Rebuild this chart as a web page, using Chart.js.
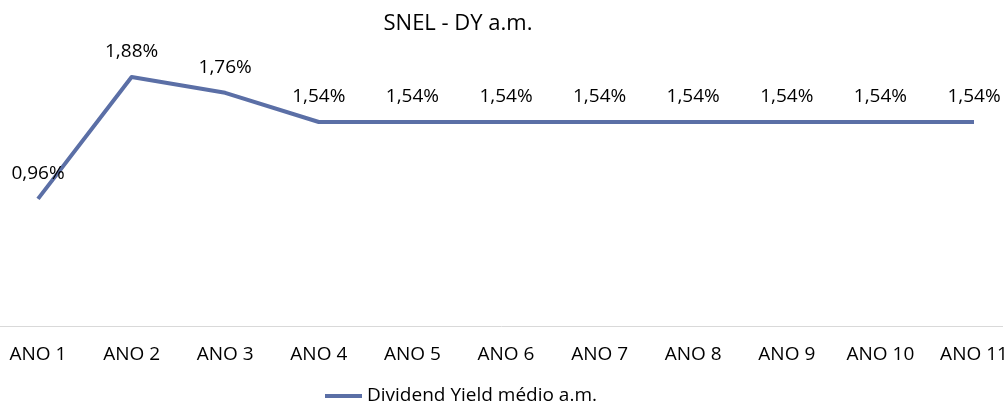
<!DOCTYPE html>
<html>
<head>
    <title>SNEL - DY a.m.</title>
    <script src="https://cdn.jsdelivr.net/npm/chart.js"></script>
    <style>
        html, body { margin: 0; padding: 0; background: #fff; }
        .chart-container { width: 1006px; height: 407px; }
    </style>
</head>
<body>
    <div class="chart-container">
        <canvas id="dyChart" width="1006" height="407"></canvas>
    </div>

    <script>
        const anos = ['ANO 1', 'ANO 2', 'ANO 3', 'ANO 4', 'ANO 5', 'ANO 6', 'ANO 7', 'ANO 8', 'ANO 9', 'ANO 10', 'ANO 11'];
        const dyMedio = [0.96, 1.88, 1.76, 1.54, 1.54, 1.54, 1.54, 1.54, 1.54, 1.54, 1.54];
        const titulo = 'SNEL - DY a.m.';
        const serieNome = 'Dividend Yield médio a.m.';

        const corLinha = '#5b6fa6';
        const fonte = '"Open Sans", "Noto Sans", sans-serif';

        // formato brasileiro: 1,54%
        const fmt = v => v.toFixed(2).replace('.', ',') + '%';

        // rótulos, eixo, título e legenda
        const extras = {
            id: 'extras',
            beforeDatasetsDraw(chart) {
                const c = chart.ctx;
                const y0 = Math.round(chart.scales.y.getPixelForValue(0)) + 0.5;
                c.save();
                c.strokeStyle = '#d9d9d9';
                c.lineWidth = 1;
                c.beginPath();
                c.moveTo(0, y0);
                c.lineTo(1003, y0);
                c.stroke();
                c.restore();
            },
            afterDatasetsDraw(chart) {
                const c = chart.ctx;
                const meta = chart.getDatasetMeta(0);
                c.save();
                c.font = '19px ' + fonte;
                c.fillStyle = '#000';
                c.textAlign = 'center';
                c.textBaseline = 'middle';
                meta.data.forEach((pt, i) => {
                    c.fillText(fmt(dyMedio[i]), pt.x, pt.y - 25);
                });

                // título
                c.font = '22px ' + fonte;
                c.fillText(titulo, 458, 24);

                // legenda
                c.strokeStyle = corLinha;
                c.lineWidth = 4;
                c.beginPath();
                c.moveTo(325, 396);
                c.lineTo(362, 396);
                c.stroke();
                c.font = '19px ' + fonte;
                c.textAlign = 'left';
                c.fillText(serieNome, 367, 396);
                c.restore();
            }
        };

        new Chart(document.getElementById('dyChart'), {
            type: 'line',
            data: {
                labels: anos,
                datasets: [{
                    label: serieNome,
                    data: dyMedio,
                    borderColor: corLinha,
                    backgroundColor: corLinha,
                    borderWidth: 4,
                    pointRadius: 0,
                    tension: 0,
                    borderJoinStyle: 'round'
                }]
            },
            options: {
                responsive: false,
                animation: false,
                layout: {
                    padding: { left: 38, right: 32, top: 61, bottom: 24 }
                },
                plugins: {
                    legend: { display: false },
                    title: { display: false },
                    tooltip: { enabled: false }
                },
                scales: {
                    x: {
                        offset: false,
                        grid: { display: false, drawTicks: false },
                        border: { display: false },
                        afterFit(scale) {
                            scale.paddingLeft = 0;
                            scale.paddingRight = 0;
                        },
                        ticks: {
                            padding: 17,
                            maxRotation: 0,
                            autoSkip: false,
                            color: '#000',
                            font: { size: 19, family: fonte }
                        }
                    },
                    y: {
                        display: false,
                        min: 0,
                        max: 2
                    }
                }
            },
            plugins: [extras]
        });
    </script>
</body>
</html>
